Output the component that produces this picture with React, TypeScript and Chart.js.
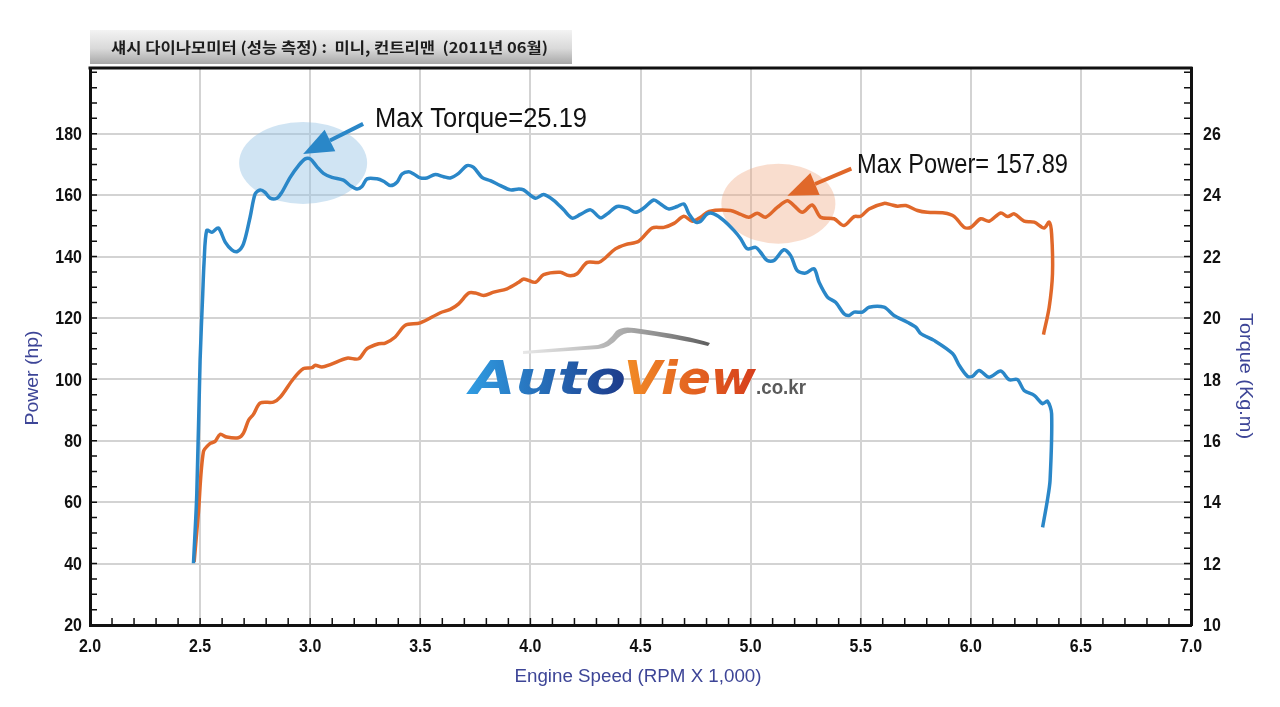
import { useEffect, useRef } from "react";
import { Chart, registerables } from "chart.js";

Chart.register(...registerables);

// axis tick labels
const rpmTicks = [2.0, 2.5, 3.0, 3.5, 4.0, 4.5, 5.0, 5.5, 6.0, 6.5, 7.0];
const powerTicks = [20, 40, 60, 80, 100, 120, 140, 160, 180];
const torqueTicks = [10, 12, 14, 16, 18, 20, 22, 24, 26];

// torque curve (Kg.m)
const torqueRpm = [
  2.47, 2.485, 2.5, 2.512, 2.518, 2.53, 2.553, 2.583, 2.614, 2.644, 2.67, 2.697, 2.727, 2.75,
  2.773, 2.795, 2.818, 2.849, 2.871, 2.909, 2.947, 2.977, 3.0, 3.03, 3.06, 3.099, 3.151, 3.182,
  3.212, 3.235, 3.258, 3.303, 3.333, 3.364, 3.394, 3.417, 3.447, 3.47, 3.5, 3.53, 3.568, 3.606,
  3.636, 3.674, 3.712, 3.742, 3.78, 3.818, 3.864, 3.909, 3.947, 3.969, 4.023, 4.06, 4.106, 4.151,
  4.19, 4.227, 4.273, 4.318, 4.349, 4.394, 4.44, 4.477, 4.515, 4.56, 4.591, 4.629, 4.667, 4.697,
  4.72, 4.75, 4.773, 4.803, 4.833, 4.879, 4.924, 4.955, 4.985, 5.023, 5.045, 5.076, 5.106, 5.151,
  5.182, 5.212, 5.25, 5.288, 5.311, 5.349, 5.386, 5.424, 5.447, 5.47, 5.508, 5.538, 5.606, 5.651,
  5.712, 5.75, 5.773, 5.833, 5.917, 5.947, 5.985, 6.008, 6.038, 6.083, 6.136, 6.174, 6.212, 6.242,
  6.288, 6.326, 6.348, 6.367, 6.36, 6.348, 6.326,
];
const torqueKgm = [
  12.01, 14.28, 18.62, 20.79, 21.81, 22.85, 22.79, 22.93, 22.47, 22.22, 22.17, 22.41, 23.28, 24.04,
  24.17, 24.09, 23.9, 23.9, 24.09, 24.58, 24.96, 25.18, 25.18, 24.93, 24.71, 24.58, 24.49, 24.31,
  24.2, 24.28, 24.53, 24.53, 24.45, 24.31, 24.42, 24.69, 24.76, 24.69, 24.56, 24.56, 24.67, 24.6,
  24.56, 24.71, 24.96, 24.9, 24.58, 24.47, 24.31, 24.17, 24.2, 24.17, 23.9, 24.02, 23.83, 23.52,
  23.25, 23.37, 23.52, 23.26, 23.39, 23.63, 23.58, 23.44, 23.58, 23.84, 23.71, 23.55, 23.63, 23.71,
  23.39, 23.12, 23.15, 23.39, 23.39, 23.17, 22.85, 22.58, 22.25, 22.3, 22.14, 21.87, 21.87, 22.22,
  22.03, 21.54, 21.46, 21.6, 21.16, 20.68, 20.51, 20.14, 20.08, 20.19, 20.19, 20.35, 20.35, 20.08,
  19.86, 19.7, 19.49, 19.27, 18.84, 18.46, 18.1, 18.1, 18.29, 18.07, 18.27, 17.99, 17.99, 17.64,
  17.48, 17.21, 17.29, 16.88, 14.72, 14.07, 13.18,
];

// power curve (hp)
const powerRpm = [
  2.473, 2.492, 2.515, 2.545, 2.568, 2.591, 2.621, 2.674, 2.697, 2.72, 2.742, 2.773, 2.833, 2.864,
  2.924, 2.97, 3.008, 3.023, 3.053, 3.091, 3.167, 3.22, 3.258, 3.311, 3.341, 3.386, 3.432, 3.5,
  3.591, 3.636, 3.674, 3.72, 3.75, 3.788, 3.833, 3.894, 3.947, 3.97, 4.023, 4.06, 4.136, 4.174,
  4.212, 4.258, 4.311, 4.341, 4.386, 4.432, 4.492, 4.553, 4.606, 4.652, 4.697, 4.735, 4.773, 4.811,
  4.909, 4.955, 4.992, 5.03, 5.068, 5.121, 5.167, 5.197, 5.235, 5.28, 5.318, 5.379, 5.424, 5.47,
  5.5, 5.538, 5.606, 5.636, 5.667, 5.705, 5.758, 5.803, 5.879, 5.924, 5.97, 6.0, 6.045, 6.083,
  6.136, 6.167, 6.197, 6.242, 6.288, 6.333, 6.356, 6.367, 6.371, 6.356, 6.33,
];
const powerHp = [
  40.6, 56.3, 76.4, 79.1, 79.8, 82.1, 81.2, 81.0, 82.5, 86.7, 88.6, 92.3, 92.6, 94.2,
  100.2, 103.5, 103.8, 104.6, 104.0, 104.8, 106.9, 106.7, 110.0, 111.6, 111.8, 113.8, 117.6, 118.4,
  121.7, 122.8, 124.6, 128.1, 128.1, 127.3, 128.4, 129.5, 131.6, 132.7, 131.6, 134.1, 134.9, 133.8,
  134.4, 138.1, 138.1, 139.6, 142.5, 143.9, 145.0, 149.3, 149.5, 150.8, 153.1, 151.5, 152.8, 154.7,
  155.0, 153.7, 152.8, 154.1, 152.8, 156.0, 158.2, 156.6, 154.4, 156.8, 152.8, 152.3, 150.1, 153.0,
  153.1, 155.5, 157.3, 156.9, 156.4, 156.6, 155.0, 154.4, 154.2, 153.1, 149.5, 149.5, 152.3, 151.5,
  154.2, 153.0, 153.9, 151.5, 151.2, 149.3, 151.2, 147.4, 134.4, 123.5, 114.6,
];

const chartTitle = "섀시 다이나모미터 (성능 측정) :  미니, 컨트리맨  (2011년 06월)";
const maxTorqueLabel = "Max Torque=25.19";
const maxPowerLabel = "Max Power= 157.89";

const BLUE = "#2a87c8";
const ORANGE = "#e0682a";
const AXIS_TITLE = "#3d4597";
const SANS = "'Liberation Sans', Arial, sans-serif";

// draw text squeezed/stretched to a given width
function fitText(ctx: CanvasRenderingContext2D, text: string, x: number, y: number, width: number, align: CanvasTextAlign) {
  const w = ctx.measureText(text).width || 1;
  ctx.save();
  ctx.translate(x, y);
  ctx.scale(width / w, 1);
  ctx.textAlign = align;
  ctx.fillText(text, 0, 0);
  ctx.restore();
}

// draw text with a fixed horizontal squeeze
function narrowText(ctx: CanvasRenderingContext2D, text: string, x: number, y: number, sx: number, align: CanvasTextAlign) {
  ctx.save();
  ctx.translate(x, y);
  ctx.scale(sx, 1);
  ctx.textAlign = align;
  ctx.fillText(text, 0, 0);
  ctx.restore();
}

// logo word with a left-to-right gradient
function gradientWord(ctx: CanvasRenderingContext2D, text: string, x: number, y: number, width: number, c0: string, c1: string) {
  const w = ctx.measureText(text).width || 1;
  ctx.save();
  ctx.translate(x, y);
  ctx.scale(width / w, 1);
  const g = ctx.createLinearGradient(0, 0, w, 0);
  g.addColorStop(0, c0);
  g.addColorStop(1, c1);
  ctx.fillStyle = g;
  ctx.textAlign = "left";
  ctx.fillText(text, 0, 0);
  ctx.restore();
}

function arrow(ctx: CanvasRenderingContext2D, x0: number, y0: number, x1: number, y1: number, color: string) {
  const a = Math.atan2(y1 - y0, x1 - x0);
  const head = 30;
  const half = 12;
  const bx = x1 - head * Math.cos(a);
  const by = y1 - head * Math.sin(a);
  ctx.save();
  ctx.strokeStyle = color;
  ctx.fillStyle = color;
  ctx.lineWidth = 4;
  ctx.beginPath();
  ctx.moveTo(x0, y0);
  ctx.lineTo(bx, by);
  ctx.stroke();
  ctx.beginPath();
  ctx.moveTo(x1, y1);
  ctx.lineTo(bx + half * Math.sin(a), by - half * Math.cos(a));
  ctx.lineTo(bx - half * Math.sin(a), by + half * Math.cos(a));
  ctx.closePath();
  ctx.fill();
  ctx.restore();
}

function peakIndex(values: number[]) {
  let best = 0;
  values.forEach((v, i) => {
    if (v > values[best]) best = i;
  });
  return best;
}

const dynoDecor = {
  id: "dynoDecor",
  beforeDatasetsDraw(chart: any) {
    const { ctx, scales } = chart;
    const x = scales.x;
    const ti = peakIndex(torqueKgm);
    const pi = peakIndex(powerHp);
    const tx = x.getPixelForValue(torqueRpm[ti]);
    const ty = scales.y1.getPixelForValue(torqueKgm[ti]);
    const px = x.getPixelForValue(powerRpm[pi]);
    const py = scales.y.getPixelForValue(powerHp[pi]);

    ctx.save();
    ctx.fillStyle = "rgba(150, 195, 228, 0.45)";
    ctx.beginPath();
    ctx.ellipse(tx - 2, ty + 4, 64, 41, 0, 0, Math.PI * 2);
    ctx.fill();
    ctx.fillStyle = "rgba(240, 165, 125, 0.38)";
    ctx.beginPath();
    ctx.ellipse(px - 9, py + 3, 57, 40, 0, 0, Math.PI * 2);
    ctx.fill();

    // watermark logo: roof swoosh
    const sw = ctx.createLinearGradient(522, 0, 712, 0);
    sw.addColorStop(0, "#e8e8e8");
    sw.addColorStop(0.5, "#b0b0b0");
    sw.addColorStop(0.75, "#8a8a8a");
    sw.addColorStop(1, "#5c5c5c");
    ctx.fillStyle = sw;
    ctx.beginPath();
    ctx.moveTo(523, 351);
    ctx.lineTo(598, 345);
    ctx.quadraticCurveTo(608, 343, 616, 331);
    ctx.quadraticCurveTo(622, 326, 634, 328);
    ctx.quadraticCurveTo(690, 336, 710, 343);
    ctx.lineTo(708, 346);
    ctx.quadraticCurveTo(680, 339, 634, 333);
    ctx.quadraticCurveTo(624, 332, 618, 338);
    ctx.quadraticCurveTo(610, 348, 598, 349);
    ctx.lineTo(523, 354);
    ctx.closePath();
    ctx.fill();

    ctx.textBaseline = "alphabetic";
    ctx.font = "bold italic 47px 'DejaVu Sans', sans-serif";
    gradientWord(ctx, "Auto", 470, 394, 156, "#2f9ae0", "#1d3a8a");
    gradientWord(ctx, "View", 624, 394, 132, "#f28c26", "#d63e1c");
    ctx.font = `bold 20px ${SANS}`;
    ctx.fillStyle = "#5a5a5a";
    fitText(ctx, ".co.kr", 756, 394, 50, "left");
    ctx.restore();
  },
  afterDraw(chart: any) {
    const { ctx, chartArea, scales } = chart;
    const { left, right, top, bottom } = chartArea;
    ctx.save();

    // frame top
    ctx.strokeStyle = "#111111";
    ctx.lineWidth = 3;
    ctx.beginPath();
    ctx.moveTo(left - 1.5, top);
    ctx.lineTo(right + 1.5, top);
    ctx.stroke();

    // inward minor ticks
    ctx.lineWidth = 1.5;
    ctx.beginPath();
    for (let v = 2.1; v < 7; v += 0.1) {
      const xp = scales.x.getPixelForValue(v);
      ctx.moveTo(xp, bottom);
      ctx.lineTo(xp, bottom - 7);
    }
    for (let v = 25; v < 201; v += 5) {
      const yp = scales.y.getPixelForValue(v);
      ctx.moveTo(left, yp);
      ctx.lineTo(left + 7, yp);
    }
    for (let v = 10.5; v < 28.1; v += 0.5) {
      const yp = scales.y1.getPixelForValue(v);
      ctx.moveTo(right, yp);
      ctx.lineTo(right - 7, yp);
    }
    ctx.stroke();

    // tick labels in a condensed face
    ctx.fillStyle = "#111111";
    ctx.textBaseline = "middle";
    ctx.font = `bold 19px ${SANS}`;
    scales.x.ticks.forEach((t: any) => {
      narrowText(ctx, Number(t.value).toFixed(1), scales.x.getPixelForValue(t.value), 647, 0.84, "center");
    });
    scales.y.ticks.forEach((t: any) => {
      narrowText(ctx, String(t.value), 82, scales.y.getPixelForValue(t.value) + 1, 0.84, "right");
    });
    scales.y1.ticks.forEach((t: any) => {
      narrowText(ctx, String(t.value), 1203, scales.y1.getPixelForValue(t.value) + 1, 0.84, "left");
    });

    // axis titles
    ctx.fillStyle = AXIS_TITLE;
    ctx.font = `18px ${SANS}`;
    fitText(ctx, "Engine Speed (RPM X 1,000)", 638, 677, 247, "center");
    ctx.save();
    ctx.translate(33, 378);
    ctx.rotate(-Math.PI / 2);
    fitText(ctx, "Power (hp)", 0, 0, 95, "center");
    ctx.restore();
    ctx.save();
    ctx.translate(1245, 376);
    ctx.rotate(Math.PI / 2);
    fitText(ctx, "Torque (Kg.m)", 0, 0, 126, "center");
    ctx.restore();

    // title box
    const g = ctx.createLinearGradient(0, 30, 0, 64);
    g.addColorStop(0, "#f3f3f3");
    g.addColorStop(0.55, "#d9d9d9");
    g.addColorStop(1, "#a8a8a8");
    ctx.fillStyle = g;
    ctx.fillRect(90, 30, 482, 34);
    ctx.fillStyle = "#1d1d1d";
    ctx.font = "bold 15px 'Noto Sans CJK KR', sans-serif";
    fitText(ctx, chartTitle, 111, 47, 437, "left");

    // annotations
    const ti = peakIndex(torqueKgm);
    const pi = peakIndex(powerHp);
    const tx = scales.x.getPixelForValue(torqueRpm[ti]);
    const ty = scales.y1.getPixelForValue(torqueKgm[ti]);
    const px = scales.x.getPixelForValue(powerRpm[pi]);
    const py = scales.y.getPixelForValue(powerHp[pi]);
    arrow(ctx, tx + 58, ty - 35, tx - 2, ty - 5, BLUE);
    arrow(ctx, px + 64, py - 32, px, py - 5, ORANGE);
    ctx.fillStyle = "#111111";
    ctx.font = `27px ${SANS}`;
    fitText(ctx, maxTorqueLabel, 375, 120, 212, "left");
    fitText(ctx, maxPowerLabel, 857, 166, 211, "left");
    ctx.restore();
  },
};

const hiddenTicks = { color: "rgba(0,0,0,0)", font: { family: SANS, size: 18 } };

export default function App() {
  const canvasRef = useRef<HTMLCanvasElement | null>(null);
  const chartRef = useRef<Chart | null>(null);

  useEffect(() => {
    if (!canvasRef.current) return;
    if (chartRef.current) chartRef.current.destroy();

    chartRef.current = new Chart(canvasRef.current, {
      type: "line",
      data: {
        datasets: [
          {
            label: "Torque (Kg.m)",
            data: torqueRpm.map((r, i) => ({ x: r, y: torqueKgm[i] })),
            yAxisID: "y1",
            borderColor: BLUE,
            borderWidth: 3.5,
            pointRadius: 0,
            tension: 0.3,
            fill: false,
          },
          {
            label: "Power (hp)",
            data: powerRpm.map((r, i) => ({ x: r, y: powerHp[i] })),
            yAxisID: "y",
            borderColor: ORANGE,
            borderWidth: 3.5,
            pointRadius: 0,
            tension: 0.3,
            fill: false,
          },
        ],
      },
      options: {
        responsive: false,
        animation: false,
        layout: { padding: { top: 68, left: 0, right: 0, bottom: 0 } },
        plugins: { legend: { display: false }, tooltip: { enabled: false } },
        scales: {
          x: {
            type: "linear",
            min: 2,
            max: 7,
            afterBuildTicks: (s: any) => {
              s.ticks = rpmTicks.map((v) => ({ value: v }));
            },
            afterFit: (s: any) => {
              s.height = 82;
            },
            grid: { color: "#d3d3d3", lineWidth: 2, drawTicks: false },
            border: { color: "#111111", width: 3 },
            ticks: { ...hiddenTicks, padding: 11, maxRotation: 0 },
          },
          y: {
            type: "linear",
            position: "left",
            min: 20,
            max: 201.4,
            afterBuildTicks: (s: any) => {
              s.ticks = powerTicks.map((v) => ({ value: v }));
            },
            afterFit: (s: any) => {
              s.width = 90;
            },
            grid: { color: "#d3d3d3", lineWidth: 2, drawTicks: false },
            border: { color: "#111111", width: 3 },
            ticks: { ...hiddenTicks, padding: 10 },
          },
          y1: {
            type: "linear",
            position: "right",
            min: 10,
            max: 28.14,
            afterBuildTicks: (s: any) => {
              s.ticks = torqueTicks.map((v) => ({ value: v }));
            },
            afterFit: (s: any) => {
              s.width = 89;
            },
            grid: { drawOnChartArea: false, drawTicks: false },
            border: { color: "#111111", width: 3 },
            ticks: { ...hiddenTicks, padding: 12 },
          },
        },
      },
      plugins: [dynoDecor],
    });

    return () => {
      if (chartRef.current) {
        chartRef.current.destroy();
        chartRef.current = null;
      }
    };
  }, []);

  return (
    <div style={{ position: "absolute", left: 0, top: 0, width: 1280, height: 707, background: "#ffffff" }}>
      <canvas ref={canvasRef} width={1280} height={707} />
    </div>
  );
}
